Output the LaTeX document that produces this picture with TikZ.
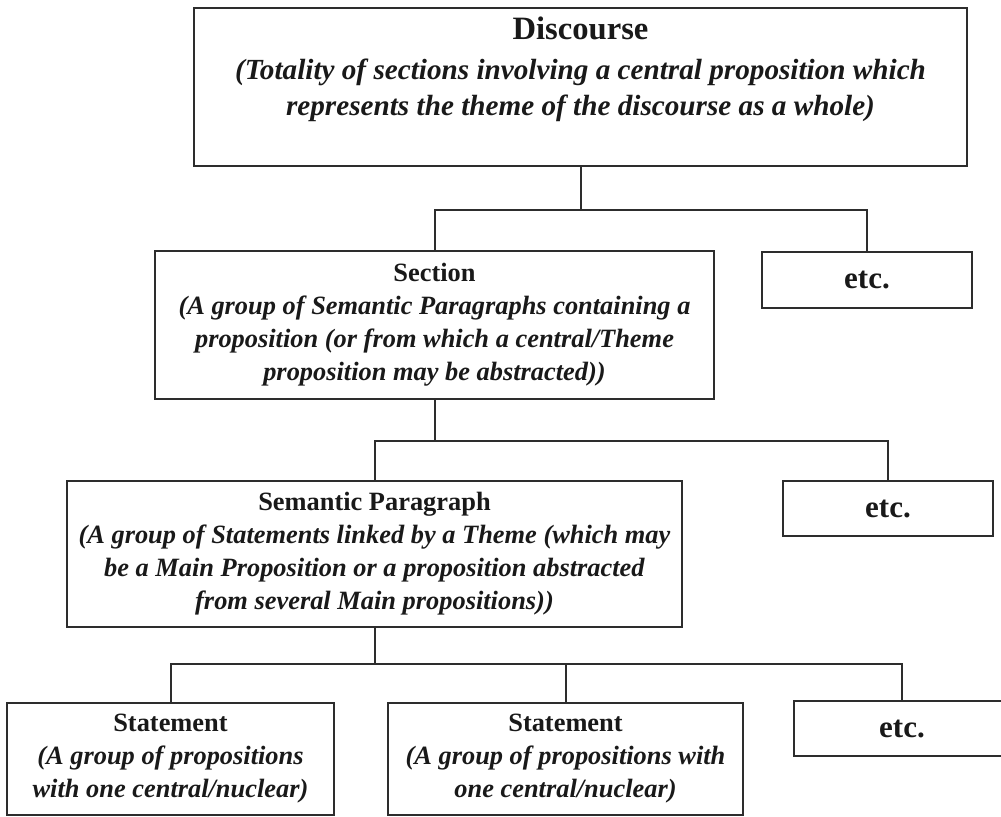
\documentclass[tikz,border=0pt]{standalone}
\usepackage{fontspec}
\setmainfont{Liberation Serif}
\usepackage{tikz}
\usetikzlibrary{positioning}
\definecolor{mydark}{RGB}{45,45,45}
\definecolor{myink}{RGB}{25,25,25}
\tikzset{
  levelbox/.style={rectangle, draw=mydark, line width=1pt, inner sep=0pt,
    align=center, text=myink, font=\fontsize{13.2}{16.5}\selectfont\bfseries},
  etcbox/.style={levelbox, font=\fontsize{15.5}{18}\selectfont\bfseries},
  toptext/.style={inner sep=0pt, align=center, text=myink,
    font=\fontsize{14.6}{18}\selectfont\bfseries},
  line/.style={line width=1pt, color=mydark}
}

\begin{document}
\begin{tikzpicture}[x=0.5pt, y=-0.5pt]
  \useasboundingbox (0,0) rectangle (1001,817);
  \clip (0,0) rectangle (1001,817);

  % top level
  \node[levelbox, minimum width=386.5pt, minimum height=79pt] (disc) at (580.5,87) {};
  \node[toptext, below=4.5pt of disc.north] (disctext)
    {{\fontsize{16.3}{18}\selectfont Discourse}\\[2pt]
     \textit{(Totality of sections involving a central proposition which}\\
     \textit{represents the theme of the discourse as a whole)}};

  % second level
  \node[levelbox, minimum width=279.5pt, minimum height=74pt] (sec) at (434.5,325)
    {Section\\
     \textit{(A group of Semantic Paragraphs containing a}\\
     \textit{proposition (or from which a central/Theme}\\
     \textit{proposition may be abstracted))}};
  \node[etcbox, minimum width=105pt, minimum height=28pt] (etcA) at (867,280) {etc.};

  % third level
  \node[levelbox, minimum width=307.5pt, minimum height=73pt] (para) at (374.5,554)
    {Semantic Paragraph\\
     \textit{(A group of Statements linked by a Theme (which may}\\
     \textit{be a Main Proposition or a proposition abstracted}\\
     \textit{from several Main propositions))}};
  \node[etcbox, minimum width=105pt, minimum height=27.5pt] (etcB) at (888,508.5) {etc.};

  % bottom level
  \node[levelbox, minimum width=163.5pt, minimum height=56pt] (stA) at (170.5,759)
    {Statement\\
     \textit{(A group of propositions}\\
     \textit{with one central/nuclear)}};
  \node[levelbox, minimum width=177.5pt, minimum height=56pt] (stB) at (565.5,759)
    {Statement\\
     \textit{(A group of propositions with}\\
     \textit{one central/nuclear)}};
  \node[etcbox, minimum width=108pt, minimum height=27.5pt] (etcC) at (902,728.5) {etc.};

  % connectors
  \draw[line] (disc.south) -- ++(0,43) coordinate (j1);
  \draw[line] (sec.north) |- (j1) -| (etcA.north);

  \draw[line] (sec.south) -- ++(0,41) coordinate (j2);
  \draw[line] (para.north) |- (j2) -| (etcB.north);

  \draw[line] (para.south) -- ++(0,36) coordinate (j3);
  \draw[line] (stA.north) |- (j3) -| (etcC.north);
  \draw[line] (j3 -| stB) -- (stB.north);
\end{tikzpicture}
\end{document}
